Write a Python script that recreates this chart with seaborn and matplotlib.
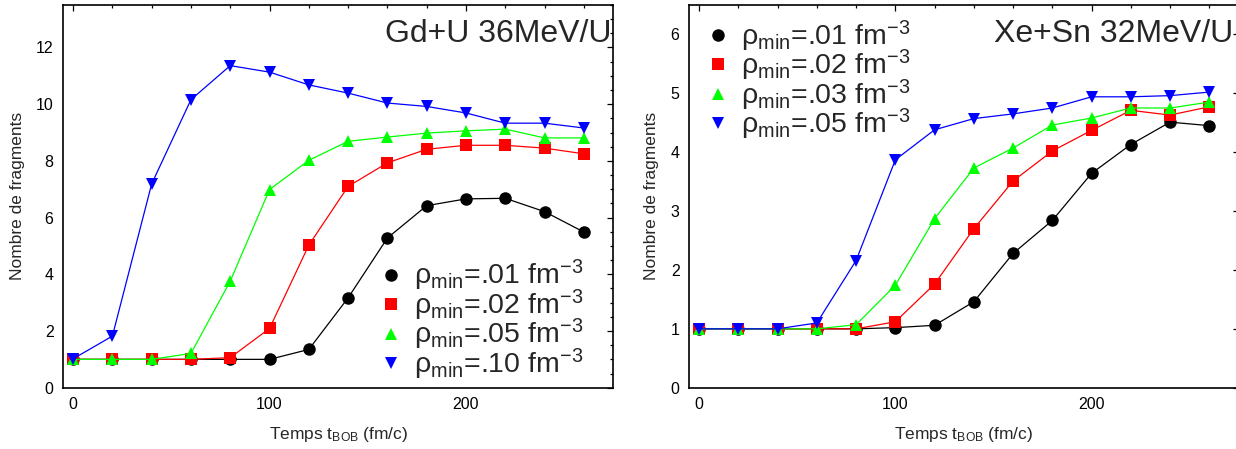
import numpy as np
import pandas as pd
import seaborn as sns
import matplotlib
matplotlib.use('Agg')
import matplotlib.pyplot as plt
from matplotlib.ticker import MultipleLocator

# temps t_BOB (fm/c)
temps = [0, 20, 40, 60, 80, 100, 120, 140, 160, 180, 200, 220, 240, 260]

# Gd+U 36MeV/U
gdu_labels = ['.01', '.02', '.05', '.10']
gdu_01 = [1.0, 1.0, 1.0, 1.0, 1.0, 1.0, 1.35, 3.17, 5.28, 6.42, 6.66, 6.68, 6.21, 5.49]
gdu_02 = [1.0, 1.0, 1.0, 1.0, 1.06, 2.09, 5.03, 7.10, 7.93, 8.41, 8.55, 8.55, 8.45, 8.25]
gdu_05 = [1.0, 1.0, 1.0, 1.21, 3.76, 6.99, 8.02, 8.69, 8.84, 8.98, 9.06, 9.12, 8.81, 8.81]
gdu_10 = [1.02, 1.82, 7.19, 10.16, 11.36, 11.13, 10.68, 10.39, 10.04, 9.92, 9.69, 9.33, 9.33, 9.16]

# Xe+Sn 32MeV/U
xesn_labels = ['.01', '.02', '.03', '.05']
xesn_01 = [1.0, 1.0, 1.0, 1.0, 1.0, 1.02, 1.06, 1.46, 2.28, 2.84, 3.64, 4.13, 4.51, 4.45]
xesn_02 = [1.0, 1.0, 1.0, 1.0, 1.0, 1.12, 1.76, 2.70, 3.51, 4.02, 4.37, 4.71, 4.63, 4.77]
xesn_03 = [1.0, 1.0, 1.0, 1.0, 1.07, 1.74, 2.87, 3.73, 4.07, 4.46, 4.58, 4.75, 4.75, 4.85]
xesn_05 = [1.0, 1.0, 1.0, 1.10, 2.16, 3.87, 4.38, 4.57, 4.65, 4.75, 4.94, 4.94, 4.96, 5.02]

colors = ['black', '#ff0000', '#00ff00', '#0000ff']
markers = ['o', 's', '^', 'v']

sns.set_theme(style='white')
plt.rcParams['font.family'] = ['Liberation Sans', 'DejaVu Sans']
plt.rcParams['mathtext.fontset'] = 'custom'
plt.rcParams['mathtext.rm'] = 'Liberation Sans'
plt.rcParams['mathtext.it'] = 'Liberation Sans:italic'
plt.rcParams['mathtext.bf'] = 'Liberation Sans:bold'


def panel(ax, series, labels, titre, xtitre, ymax, ystep, yminor):
    for vals, lab, c, m in zip(series, labels, colors, markers):
        sns.lineplot(x=temps, y=vals, ax=ax, color=c, marker=m, markersize=9,
                     markeredgewidth=0, linewidth=0.9,
                     label=r'ρ$_{\mathrm{min}}$=' + lab + r' fm$^{\mathrm{-3}}$')
    ax.set_xlim(-5, 275)
    ax.set_ylim(0, ymax)
    ax.xaxis.set_major_locator(MultipleLocator(100))
    ax.xaxis.set_minor_locator(MultipleLocator(20))
    ax.yaxis.set_major_locator(MultipleLocator(ystep))
    ax.yaxis.set_minor_locator(MultipleLocator(yminor))
    ax.tick_params(which='both', direction='in', top=True, right=True,
                   colors='black', labelsize=11.5, width=0.9)
    ax.tick_params(which='major', length=4.5, pad=7)
    ax.tick_params(which='minor', length=2.5)
    for s in ax.spines.values():
        s.set_color('black')
        s.set_linewidth(1.2)
    ax.set_xlabel(r'Temps t$_{\mathrm{BOB}}$ (fm/c)', fontsize=12.5, labelpad=9)
    ax.set_ylabel('Nombre de fragments', fontsize=12.5, labelpad=8)
    ax.text(xtitre, 0.962, titre, transform=ax.transAxes, ha='right', va='top',
            fontsize=23)


fig = plt.figure(figsize=(12.36, 4.49), dpi=100)
ax1 = fig.add_axes([0.0512, 0.1365, 0.445, 0.8525])
ax2 = fig.add_axes([0.5577, 0.1365, 0.4445, 0.8525])

panel(ax1, [gdu_01, gdu_02, gdu_05, gdu_10], gdu_labels, 'Gd+U 36MeV/U', 0.997, 13.5, 2, 0.5)
panel(ax2, [xesn_01, xesn_02, xesn_03, xesn_05], xesn_labels, 'Xe+Sn 32MeV/U', 0.99, 6.5, 1, 0.2)

leg_kw = dict(frameon=False, fontsize=20.5, handlelength=0, handletextpad=0.8,
              labelspacing=-0.2, borderpad=0, borderaxespad=0)
ax1.legend(loc='lower right', bbox_to_anchor=(0.945, 0.015), **leg_kw)
ax2.legend(loc='upper left', bbox_to_anchor=(0.052, 0.965), **leg_kw)

fig.savefig('out.png', dpi=100)
